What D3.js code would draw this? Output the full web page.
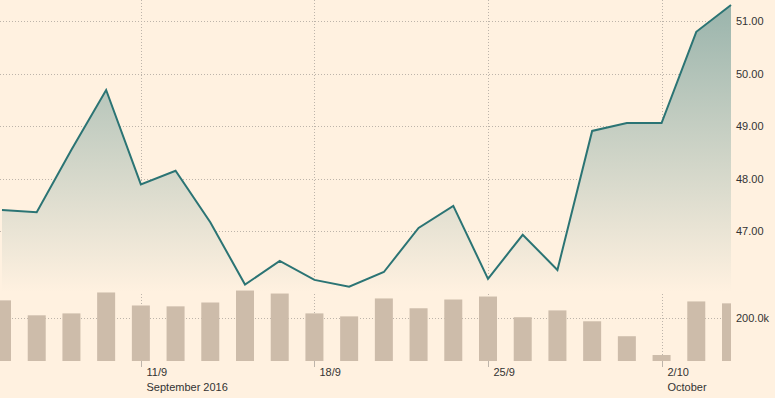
<!DOCTYPE html>
<html>
<head>
<meta charset="utf-8">
<script src="https://cdn.jsdelivr.net/npm/d3@7"></script>
<style>
  html, body { margin: 0; padding: 0; background: #fff1e0; }
  svg { display: block; }
  text { font-family: Arial, "Liberation Sans", sans-serif; font-size: 11px; fill: #333; }
</style>
</head>
<body>
<svg id="chart" width="775" height="398"></svg>
<script>
'use strict';

// price per trading day
var prices = [47.40, 47.36, 48.55, 49.69, 47.89, 48.15, 47.17, 45.98, 46.43, 46.07, 45.94,
              46.22, 47.06, 47.48, 46.09, 46.93, 46.26, 48.91, 49.06, 49.06, 50.80, 51.31];
// volume per trading day
var volumes = [284000, 214000, 223000, 321000, 260000, 256000, 274000, 330000, 316000, 223000, 209000,
               293000, 247000, 288000, 302000, 205000, 237000, 186000, 116000, 28000, 279000, 270000];
var tickIdx = [4, 9, 14, 19];
var tickLabels = ['11/9', '18/9', '25/9', '2/10'];
var monthLabels = ['September 2016', '', '', 'October'];
var priceTicks = [47, 48, 49, 50, 51];
var volumeTicks = [200000];

var W = 775, H = 398;
var plotRight = 731, baseY = 361, priceBottom = 292;

var svg = d3.select('#chart');
svg.append('rect').attr('width', W).attr('height', H).attr('fill', '#fff1e0');

var x = d3.scaleLinear().domain([0, prices.length - 1]).range([2, plotRight]);
var y = d3.scaleLinear().domain([47, 51]).range([231.1, 21.3]);
var yv = d3.scaleLinear().domain([0, 200000]).range([baseY, 318.3]);

var defs = svg.append('defs');
var grad = defs.append('linearGradient').attr('id', 'areaGrad')
  .attr('gradientUnits', 'userSpaceOnUse')
  .attr('x1', 0).attr('x2', 0).attr('y1', 0).attr('y2', priceBottom);
grad.append('stop').attr('offset', 0).attr('stop-color', '#98b3ab');
grad.append('stop').attr('offset', 1).attr('stop-color', '#fff1e0');

defs.append('clipPath').attr('id', 'plotClip')
  .append('rect').attr('x', 0).attr('y', 0).attr('width', plotRight).attr('height', baseY);

var grid = svg.append('g').attr('stroke', '#bdb4aa').attr('stroke-dasharray', '1,2').attr('stroke-width', 1);

// area
svg.append('path')
  .datum(prices)
  .attr('fill', 'url(#areaGrad)')
  .attr('d', d3.area().x(function(d, i) { return x(i); }).y0(priceBottom).y1(function(d) { return y(d); }));

// horizontal grid
priceTicks.forEach(function(t) {
  grid.append('line').attr('x1', 0).attr('x2', plotRight)
    .attr('y1', Math.round(y(t)) + 0.5).attr('y2', Math.round(y(t)) + 0.5);
});
volumeTicks.forEach(function(t) {
  grid.append('line').attr('x1', 0).attr('x2', plotRight)
    .attr('y1', Math.round(yv(t)) + 0.5).attr('y2', Math.round(yv(t)) + 0.5);
});
// vertical grid
tickIdx.forEach(function(t) {
  grid.append('line').attr('x1', Math.round(x(t)) + 0.5).attr('x2', Math.round(x(t)) + 0.5)
    .attr('y1', 0).attr('y2', baseY);
});

// bars
svg.append('g').attr('clip-path', 'url(#plotClip)')
  .selectAll('rect').data(volumes).enter().append('rect')
  .attr('x', function(d, i) { return x(i) - 9; })
  .attr('width', 18)
  .attr('y', function(d) { return yv(d); })
  .attr('height', function(d) { return baseY - yv(d); })
  .attr('fill', '#cdbcaa');

// line
svg.append('path')
  .datum(prices)
  .attr('fill', 'none')
  .attr('stroke', '#2b7474')
  .attr('stroke-width', 2)
  .attr('stroke-linejoin', 'miter')
  .attr('d', d3.line().x(function(d, i) { return x(i); }).y(function(d) { return y(d); }));

// x ticks and labels
var xt = svg.append('g');
tickIdx.forEach(function(t, k) {
  var px = Math.round(x(t)) + 0.5;
  xt.append('line').attr('x1', px).attr('x2', px).attr('y1', baseY).attr('y2', baseY + 6)
    .attr('stroke', '#bdb4aa');
  xt.append('text').attr('x', px + 5).attr('y', 376).text(tickLabels[k]);
  if (monthLabels[k]) xt.append('text').attr('x', px + 5).attr('y', 390.5).text(monthLabels[k]);
});

// right axis labels
var fmtP = d3.format('.2f');
priceTicks.forEach(function(t) {
  svg.append('text').attr('x', 736).attr('y', y(t)).attr('dy', '0.35em').text(fmtP(t));
});
volumeTicks.forEach(function(t) {
  svg.append('text').attr('x', 736).attr('y', yv(t)).attr('dy', '0.35em').text((t / 1000).toFixed(1) + 'k');
});
</script>
</body>
</html>
